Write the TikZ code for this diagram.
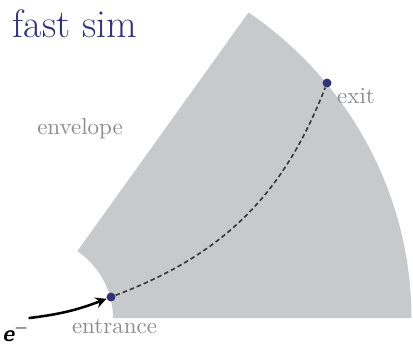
\documentclass[tikz,border=0pt]{standalone}
\usepackage{amsmath}
\usepackage{tikz}
\definecolor{envGray}{RGB}{200,201,203}
\definecolor{labelGray}{RGB}{140,140,140}
\definecolor{simBlue}{RGB}{50,50,120}
\definecolor{trackGray}{RGB}{55,55,55}

\begin{document}
\begin{tikzpicture}[x=0.0153cm, y=0.0153cm,
    hit/.style={circle, fill=simBlue, inner sep=0pt, minimum size=3.9pt},
    graylabel/.style={text=labelGray}]
        \useasboundingbox (0,0) rectangle (413,344);
        \coordinate (ip) at (29.4,26);
        % envelope sector
        \fill[envGray] ([shift={(0:83.6)}]ip) -- ([shift={(0:382)}]ip)
            arc[start angle=0, end angle=55, x radius=382, y radius=373]
            -- ([shift={(55:83.6 and 81.6)}]ip)
            arc[start angle=55, end angle=0, x radius=83.6, y radius=81.6] -- cycle;
        \node[text=simBlue, font=\LARGE] (title) at (75,320) {fast sim};
        \node[graylabel] (envlabel) at (80,215) {envelope};
        \node[graylabel] (exitlabel) at (356,247.5) {exit};
        \node[graylabel] (entrlabel) at (114.5,17.5) {entrance};
        \node[anchor=base west, inner sep=0pt] (electron) at (2,3) {{\sffamily\bfseries\itshape e}$^{-}$};
        \node[hit] (entrance) at (111,47) {};
        \node[hit] (exit) at (327,261) {};
        % track
        \draw[line width=1.1pt, line cap=round, -stealth] (ip) to[bend right=7] (entrance);
        \draw[trackGray, line width=0.7pt, dash pattern=on 2pt off 1.3pt] (entrance) to[bend right=24] (exit);
      \end{tikzpicture}
\end{document}
